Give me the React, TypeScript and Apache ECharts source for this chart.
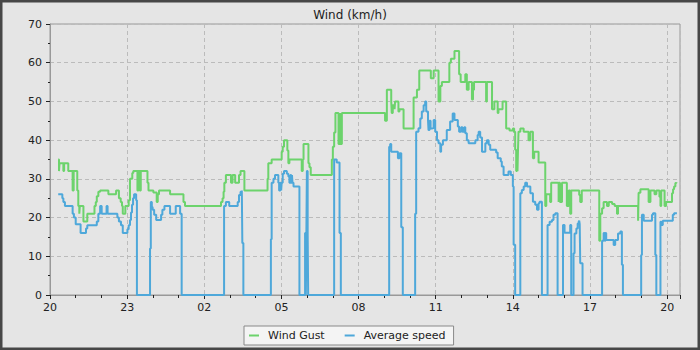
import React, { useEffect, useRef } from "react";
import * as echarts from "echarts";

// hours since 20:00, value (km/h)
const xLabels = ["20", "23", "02", "05", "08", "11", "14", "17", "20"];
const yMin = 0;
const yMax = 70;

const gustData: [number, number][] = [
  [0.32, 35], [0.35, 32], [0.37, 34], [0.52, 32], [0.55, 34], [0.71, 32], [0.88, 27], [0.92, 32],
  [1.06, 27], [1.1, 23], [1.14, 21], [1.16, 23], [1.3, 19], [1.45, 21], [1.73, 23], [1.78, 24],
  [1.82, 25.5], [1.88, 26.7], [1.95, 27], [2.27, 26], [2.57, 27], [2.68, 25], [2.75, 24], [2.8, 23],
  [2.83, 21], [2.93, 23], [3.06, 24.5], [3.11, 30], [3.2, 31.5], [3.24, 32], [3.4, 27], [3.44, 32],
  [3.49, 27], [3.53, 32], [3.79, 29], [3.83, 27], [4.02, 26.5], [4.15, 24], [4.19, 26], [4.24, 27],
  [4.67, 26], [5.19, 24], [5.25, 23], [6.65, 24], [6.71, 25], [6.75, 26.7], [6.78, 29], [6.84, 31],
  [7.04, 29], [7.1, 31], [7.2, 29], [7.35, 31], [7.41, 32], [7.56, 27], [8.46, 30], [8.49, 34],
  [8.62, 35], [9.01, 37], [9.05, 38.3], [9.1, 40], [9.23, 37.3], [9.27, 34], [9.31, 35], [9.79, 32],
  [9.83, 35], [9.86, 39], [10.05, 34], [10.09, 33], [10.14, 31], [10.96, 35], [11.0, 38.3], [11.05, 42],
  [11.1, 47], [11.22, 39], [11.25, 47], [11.27, 39], [11.3, 47], [11.32, 39], [11.35, 47], [13.03, 45],
  [13.1, 53], [13.27, 50], [13.29, 47], [13.33, 49], [13.4, 48], [13.42, 50], [13.55, 47.4], [13.59, 48],
  [13.75, 43], [14.14, 51], [14.27, 53], [14.36, 58], [14.81, 56], [14.92, 58], [15.11, 50], [15.18, 54],
  [15.24, 55], [15.53, 60], [15.59, 61], [15.73, 63], [15.91, 57], [15.97, 55], [16.15, 57], [16.21, 53],
  [16.28, 55], [16.41, 50.5], [16.45, 53], [16.49, 55], [16.96, 50], [16.99, 55], [17.19, 48], [17.28, 50],
  [17.41, 47], [17.44, 48], [17.6, 50], [17.74, 43], [17.87, 42.5], [18.0, 43], [18.05, 42.2], [18.09, 37.5],
  [18.13, 32], [18.16, 37.5], [18.18, 32], [18.2, 37.5], [18.22, 42.2], [18.29, 43], [18.42, 42.2], [18.61, 40],
  [18.68, 42.2], [18.78, 35.3], [18.83, 37], [19.0, 34.2], [19.26, 23], [19.3, 26], [19.45, 24], [19.49, 29],
  [19.78, 24], [19.8, 29], [19.83, 24], [19.86, 29], [19.88, 24], [19.91, 29], [20.1, 23], [20.17, 27],
  [20.23, 21], [20.27, 27], [20.58, 25.8], [20.62, 24], [20.68, 27], [21.36, 14], [21.4, 21], [21.47, 22.4],
  [21.53, 24], [21.66, 23], [21.73, 24], [21.86, 23.5], [21.96, 23], [22.05, 21], [22.09, 23], [22.87, 19.2],
  [22.89, 26.4], [22.96, 27.3], [23.28, 24], [23.35, 27], [23.51, 26], [23.58, 27], [23.7, 25.4], [23.74, 23],
  [23.77, 27], [23.9, 23], [23.96, 24], [24.19, 26.3], [24.23, 27.3], [24.27, 28], [24.32, 28.9], [24.36, 29.1],
  [24.38, 29.1],
];

const speedData: [number, number][] = [
  [0.32, 26], [0.48, 25], [0.52, 24], [0.58, 23], [0.88, 21], [0.93, 20], [1.0, 18.3], [1.19, 16],
  [1.4, 17.2], [1.45, 18], [1.82, 19], [1.88, 21], [1.95, 23], [2.01, 21], [2.2, 23], [2.24, 21],
  [2.62, 20], [2.68, 19], [2.76, 18], [2.83, 16], [3.01, 17], [3.06, 18], [3.11, 19.4], [3.15, 21.3],
  [3.19, 23.3], [3.23, 25], [3.27, 26], [3.35, 24.5], [3.38, 0], [3.89, 12], [3.92, 24], [3.96, 22.7],
  [3.99, 22], [4.05, 20.7], [4.13, 19.4], [4.32, 20.7], [4.37, 22], [4.45, 23], [4.67, 21], [4.89, 23],
  [5.06, 21], [5.12, 0], [6.77, 23], [6.84, 24], [6.97, 23], [7.3, 24], [7.35, 25.8], [7.41, 26.7],
  [7.46, 27], [7.48, 13.4], [7.52, 0], [8.59, 14.4], [8.62, 29], [8.69, 30], [8.75, 31], [8.88, 29],
  [8.91, 27], [8.96, 29], [8.99, 27], [9.01, 29], [9.05, 31.3], [9.1, 32], [9.21, 31.3], [9.27, 30.6],
  [9.31, 29], [9.35, 31], [9.38, 29], [9.41, 31], [9.43, 29], [9.47, 28], [9.7, 0], [9.92, 16],
  [9.95, 0], [9.97, 16], [9.99, 32], [10.02, 16], [10.04, 0], [11.05, 35], [11.15, 34.2], [11.26, 16],
  [11.31, 0], [13.19, 38.3], [13.23, 39], [13.27, 37], [13.53, 35.3], [13.59, 36.6], [13.66, 17.5], [13.72, 0],
  [14.2, 21], [14.24, 42.2], [14.33, 43.1], [14.4, 45.6], [14.46, 47.4], [14.53, 49], [14.59, 50], [14.63, 47.4],
  [14.7, 45.2], [14.72, 42.6], [14.76, 45], [14.8, 43], [14.85, 43.1], [14.92, 45.2], [14.98, 42.2], [15.05, 40],
  [15.11, 39.2], [15.18, 37], [15.21, 38.8], [15.28, 40], [15.43, 42.6], [15.56, 44.8], [15.66, 46.9], [15.73, 45.2],
  [15.86, 43.5], [15.91, 42.2], [15.99, 43.3], [16.04, 42.2], [16.11, 43.3], [16.15, 41.8], [16.21, 40], [16.28, 39.2],
  [16.54, 40], [16.63, 41.3], [16.67, 42.2], [16.73, 40.7], [16.8, 37], [16.93, 39.2], [16.99, 40], [17.06, 38.8],
  [17.12, 37.5], [17.35, 36.8], [17.41, 35.3], [17.53, 34.5], [17.57, 33.2], [17.64, 31], [17.83, 31.9], [17.92, 31],
  [18.0, 28], [18.03, 13], [18.09, 0], [18.29, 26.3], [18.35, 27.1], [18.42, 28], [18.48, 29], [18.55, 28],
  [18.68, 26.3], [18.78, 24.1], [18.87, 23.3], [18.94, 22], [19.0, 23.7], [19.04, 24.1], [19.13, 0], [19.35, 18.1],
  [19.43, 18.9], [19.52, 19.4], [19.58, 20.7], [19.65, 21.1], [19.74, 0], [19.95, 18.1], [20.01, 16.1], [20.23, 18.1],
  [20.27, 0], [20.36, 10.8], [20.4, 15.9], [20.47, 17.2], [20.52, 18.5], [20.56, 18.9], [20.58, 19.2], [20.6, 18.3],
  [20.62, 8.2], [20.71, 0], [21.47, 14], [21.53, 16], [21.57, 14], [21.6, 16], [21.63, 14.2], [21.92, 12.9],
  [21.98, 14.2], [22.09, 15.9], [22.18, 16.4], [22.24, 7.8], [22.28, 0], [22.99, 10.3], [23.02, 20.7], [23.09, 19.2],
  [23.41, 20.7], [23.45, 21.1], [23.54, 10.3], [23.58, 0], [23.74, 18.9], [23.77, 18.1], [23.83, 19.2], [24.22, 20.7],
  [24.27, 21.1], [24.38, 21.1],
];

const FONT = "DejaVu Sans";

export default function App() {
  const ref = useRef<HTMLDivElement>(null);
  useEffect(() => {
    document.body.style.margin = "0";
    if (!ref.current) return;
    const chart = echarts.init(ref.current, undefined, { renderer: "svg" });
    const axisCommon = {
      axisLine: { show: true, lineStyle: { color: "#999", width: 1 } },
      axisTick: { show: true, length: 4, lineStyle: { color: "#222" } },
      axisLabel: { color: "#222", fontSize: 11, fontFamily: FONT },
      splitLine: { show: true, lineStyle: { color: "#bbb", type: [4, 3] as any, width: 1 } },
    };
    chart.setOption({
      animation: false,
      backgroundColor: "#e5e5e5",
      title: {
        text: "Wind (km/h)",
        left: "center",
        top: 4,
        textStyle: { fontSize: 12, fontWeight: "normal", color: "#222", fontFamily: FONT },
      },
      legend: {
        data: ["Wind Gust", "Average speed"],
        left: 244,
        top: 326,
        icon: "rect",
        itemWidth: 10,
        itemHeight: 2,
        itemGap: 20,
        padding: [4, 8, 4, 5],
        backgroundColor: "#f4f4f4",
        borderColor: "#888",
        borderWidth: 1,
        borderRadius: 0,
        textStyle: { fontSize: 11, fontFamily: FONT, color: "#222", padding: [0, 0, 0, 4] },
      },
      grid: {
        left: 50,
        right: 20,
        top: 24,
        bottom: 55,
        show: true,
        borderColor: "#999",
        borderWidth: 1,
        backgroundColor: "transparent",
        containLabel: false,
      },
      xAxis: {
        type: "value",
        min: 0,
        max: 24.5,
        interval: 3,
        ...axisCommon,
        axisLabel: {
          ...axisCommon.axisLabel,
          margin: 7,
          formatter: (v: number) => {
            const i = Math.round(v / 3);
            return Math.abs(v - i * 3) < 1e-6 && xLabels[i] !== undefined ? xLabels[i] : "";
          },
        },
        minorTick: { show: true, splitNumber: 3, length: 3, lineStyle: { color: "#222" } },
      },
      yAxis: {
        type: "value",
        min: yMin,
        max: yMax,
        interval: 10,
        ...axisCommon,
        axisLabel: { ...axisCommon.axisLabel, margin: 8 },
        minorTick: { show: true, splitNumber: 2, length: 2, lineStyle: { color: "#222" } },
      },
      series: [
        {
          name: "Wind Gust",
          type: "line",
          step: "end",
          data: gustData,
          showSymbol: false,
          symbol: "none",
          color: "#6cd36c",
          lineStyle: { width: 2, color: "#6cd36c" },
        },
        {
          name: "Average speed",
          type: "line",
          step: "end",
          data: speedData,
          showSymbol: false,
          symbol: "none",
          color: "#4ea8da",
          lineStyle: { width: 2, color: "#4ea8da" },
        },
      ],
      graphic: [
        {
          type: "rect",
          silent: true,
          z: 100,
          shape: { x: 0, y: 0, width: 700, height: 350 },
          style: { fill: "transparent", stroke: "#474747", lineWidth: 5 },
        },
      ],
    });
    return () => chart.dispose();
  }, []);
  return <div ref={ref} style={{ width: 700, height: 350 }} />;
}
